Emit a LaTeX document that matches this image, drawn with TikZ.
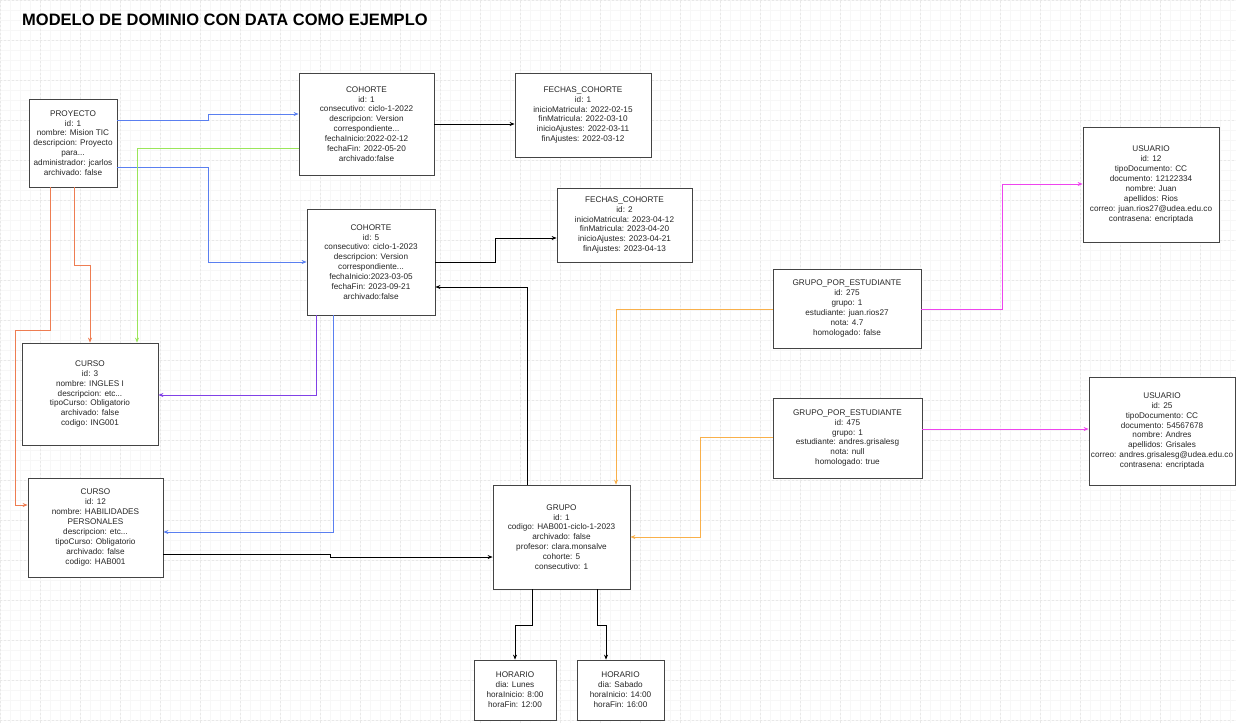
\documentclass[tikz,border=0pt]{standalone}
\usepackage{fontspec}
\setmainfont{Liberation Sans}
\usetikzlibrary{arrows.meta,calc}
\definecolor{cblue}{HTML}{5A7FF0}
\definecolor{cgreen}{HTML}{9BE65A}
\definecolor{corange}{HTML}{EE7D52}
\definecolor{cpurple}{HTML}{8040E6}
\definecolor{cyellow}{HTML}{F9B04A}
\definecolor{cmagenta}{HTML}{EE44EE}
\definecolor{cbox}{HTML}{444444}
\tikzset{
  ent/.style={draw=cbox, line width=0.8pt, fill=white, align=center, inner sep=0pt,
    font=\fontsize{8.2}{9.9}\selectfont, text=black!85},
  conn/.style={line width=0.7pt, -{Stealth[length=5pt,width=4pt]}},
}
\newcommand{\entbox}[6]{% name, cx, cy, w, h, text
  \node[ent, minimum width=#4pt, minimum height=#5pt] (#1) at (#2,#3) {#6};}
\begin{document}
\begin{tikzpicture}[x=1pt,y=-1pt]
\useasboundingbox (0,0) rectangle (1236,723);
\fill[white] (0,0) rectangle (1236,723);
% grid
\draw[black!3, line width=0.3pt, step=10pt] (0,0) grid (1236,723);
\draw[black!9, line width=0.4pt, dash pattern=on 2pt off 2pt, step=40pt] (0,0) grid (1236,723);
% title
\node[anchor=west, font=\fontsize{16.5}{19}\selectfont\bfseries, inner sep=0pt] (title) at (22,20) {MODELO DE DOMINIO CON DATA COMO EJEMPLO};
% entities
\entbox{pro}{73}{143}{88}{88}{PROYECTO\\id: 1\\nombre: Mision TIC\\descripcion: Proyecto\\para...\\administrador: jcarlos\\archivado: false}
\entbox{coh1}{366.5}{124}{135}{102}{COHORTE\\id: 1\\consecutivo: ciclo-1-2022\\descripcion: Version\\correspondiente...\\fechaInicio:2022-02-12\\fechaFin: 2022-05-20\\archivado:false}
\entbox{fec1}{583}{115}{136}{84}{FECHAS\_COHORTE\\id: 1\\inicioMatricula: 2022-02-15\\finMatricula: 2022-03-10\\inicioAjustes: 2022-03-11\\finAjustes: 2022-03-12}
\entbox{coh2}{371}{262}{128}{106}{COHORTE\\id: 5\\consecutivo: ciclo-1-2023\\descripcion: Version\\correspondiente...\\fechaInicio:2023-03-05\\fechaFin: 2023-09-21\\archivado:false}
\entbox{fec2}{624.5}{225}{135}{74}{FECHAS\_COHORTE\\id: 2\\inicioMatricula: 2023-04-12\\finMatricula: 2023-04-20\\inicioAjustes: 2023-04-21\\finAjustes: 2023-04-13}
\entbox{usu1}{1151}{184.5}{136}{115}{USUARIO\\id: 12\\tipoDocumento: CC\\documento: 12122334\\nombre: Juan\\apellidos: Rios\\correo: juan.rios27@udea.edu.co\\contrasena: encriptada}
\entbox{gpe1}{847}{308.5}{148}{79}{GRUPO\_POR\_ESTUDIANTE\\id: 275\\grupo: 1\\estudiante: juan.rios27\\nota: 4.7\\homologado: false}
\entbox{cur1}{90}{394}{136}{102}{CURSO\\id: 3\\nombre: INGLES I\\descripcion: etc...\\tipoCurso: Obligatorio\\archivado: false\\codigo: ING001}
\entbox{cur2}{95.5}{527.5}{135}{99}{CURSO\\id: 12\\nombre: HABILIDADES\\PERSONALES\\descripcion: etc...\\tipoCurso: Obligatorio\\archivado: false\\codigo: HAB001}
\entbox{gru}{561.5}{537}{137}{104}{GRUPO\\id: 1\\codigo: HAB001-ciclo-1-2023\\archivado: false\\profesor: clara.monsalve\\cohorte: 5\\consecutivo: 1}
\entbox{gpe2}{847.5}{438}{149}{80}{GRUPO\_POR\_ESTUDIANTE\\id: 475\\grupo: 1\\estudiante: andres.grisalesg\\nota: null\\homologado: true}
\entbox{usu2}{1162}{431}{146}{108}{USUARIO\\id: 25\\tipoDocumento: CC\\documento: 54567678\\nombre: Andres\\apellidos: Grisales\\correo: andres.grisalesg@udea.edu.co\\contrasena: encriptada}
\entbox{hor1}{515}{690}{82}{60}{HORARIO\\dia: Lunes\\horaInicio: 8:00\\horaFin: 12:00}
\entbox{hor2}{620.5}{690}{87}{60}{HORARIO\\dia: Sabado\\horaInicio: 14:00\\horaFin: 16:00}
% connectors
\draw[conn, cblue] (pro.east |- 0,120) -- (208,120) -- (208,114) -- (coh1.west |- 0,114);
\draw[conn, cblue] (pro.east |- 0,167) -- (208,167) -- (208,262) -- (coh2.west |- 0,262);
\draw[conn, cgreen] (coh1.west |- 0,148) -- (137,148) -- (cur1.north -| 137,0);
\draw[conn, corange] (pro.south -| 74,0) -- (74,265) -- (90,265) -- (cur1.north -| 90,0);
\draw[conn, corange] (pro.south -| 50,0) -- (50,330) -- (15,330) -- (15,505) -- (cur2.west |- 0,505);
\draw[conn, cpurple] (coh2.south -| 316,0) -- (316,395) -- (cur1.east |- 0,395);
\draw[conn, cblue] (coh2.south -| 333,0) -- (333,532) -- (cur2.east |- 0,532);
\draw[conn, black] (coh1.east |- 0,124) -- (fec1.west |- 0,124);
\draw[conn, black] (coh2.east |- 0,262) -- (495,262) -- (495,238) -- (fec2.west |- 0,238);
\draw[conn, black] (gru.north -| 527,0) -- (527,287) -- (coh2.east |- 0,287);
\draw[conn, black] (cur2.east |- 0,554) -- (330,554) -- (330,557) -- (gru.west |- 0,557);
\draw[conn, cyellow] (gpe1.west |- 0,309) -- (616,309) -- (gru.north -| 616,0);
\draw[conn, cyellow] (gpe2.west |- 0,437) -- (700,437) -- (700,537) -- (gru.east |- 0,537);
\draw[conn, cmagenta] (gpe1.east |- 0,309) -- (1002,309) -- (1002,184) -- (usu1.west |- 0,184);
\draw[conn, cmagenta] (gpe2.east |- 0,429) -- (usu2.west |- 0,429);
\draw[conn, black] (gru.south -| 532,0) -- (532,625) -- (515,625) -- (hor1.north -| 515,0);
\draw[conn, black] (gru.south -| 597,0) -- (597,625) -- (606,625) -- (hor2.north -| 606,0);
\end{tikzpicture}
\end{document}
